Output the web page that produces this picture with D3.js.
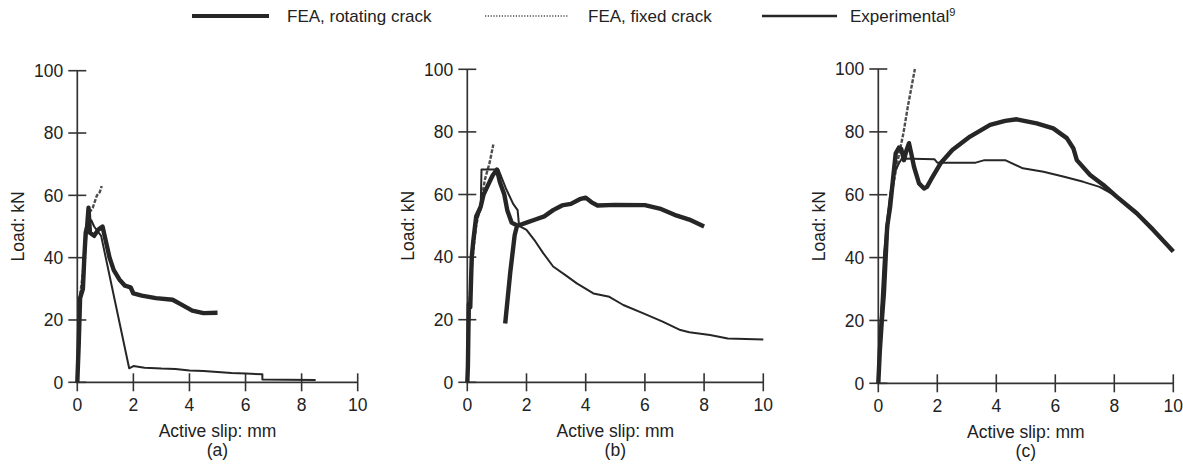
<!DOCTYPE html>
<html>
<head>
<meta charset="utf-8">
<script src="https://cdn.jsdelivr.net/npm/d3@7"></script>
<style>
  body { margin: 0; background: #fff; }
  svg text { font-family: "Liberation Sans", Arial, Helvetica, sans-serif; fill: #222; }
</style>
</head>
<body>
<script>
// Valeurs : [glissement (mm), charge (kN)]
var slipTicks = [0, 2, 4, 6, 8, 10];
var loadTicks = [0, 20, 40, 60, 80, 100];
var panelLabels = ["(a)", "(b)", "(c)"];
var legendLabels = ["FEA, rotating crack", "FEA, fixed crack", "Experimental"];

var rotatingA = [[0,0],[0.05,12],[0.1,27],[0.2,30],[0.25,40],[0.3,48],[0.35,50],[0.4,56],[0.45,48],[0.6,47],
  [0.75,49],[0.9,50],[1.0,46],[1.15,40],[1.3,36],[1.5,33],[1.7,31],[1.9,30.5],[2.0,28.5],[2.3,27.8],
  [2.8,27],[3.4,26.5],[3.7,25],[4.1,23],[4.5,22.2],[5.0,22.3]];
var fixedA = [[0,0],[0.05,15],[0.1,28],[0.2,35],[0.3,48],[0.4,54],[0.55,56],[0.7,60],[0.8,61],[0.87,63]];
var experimentalA = [[0,0],[0.03,8],[0.1,25],[0.2,32],[0.27,40],[0.33,48],[0.4,50],[0.5,52],[0.6,50],
  [0.85,47],[1.85,4.5],[2.0,5.2],[2.4,4.7],[3.0,4.4],[3.5,4.3],[4.0,3.8],[4.5,3.6],[5.0,3.3],[5.5,3.0],
  [6.0,2.8],[6.6,2.6],[6.6,0.9],[7.5,0.8],[8.5,0.7]];

var rotatingB = [[0,0],[0.02,5],[0.05,25],[0.1,24],[0.15,40],[0.2,45],[0.3,53],[0.45,56],[0.55,60],[0.7,63],
  [0.85,66],[1.0,68],[1.1,64],[1.25,60],[1.35,55],[1.5,51],[1.7,50],[2.0,51],[2.3,52],[2.6,53],[2.9,55],
  [3.2,56.5],[3.5,57],[3.8,58.5],[4.0,59],[4.2,57.5],[4.4,56.5],[5.0,56.7],[6.0,56.6],[6.5,55.5],[7.0,53.5],
  [7.5,52],[8.0,49.8],
  null, [1.28,18.8],[1.45,35],[1.6,47],[1.68,50]];
var fixedB = [[0,0],[0.05,20],[0.1,30],[0.2,42],[0.3,50],[0.45,57],[0.6,65],[0.75,70],[0.88,76]];
var experimentalB = [[0,0],[0.03,10],[0.08,25],[0.15,40],[0.25,50],[0.4,54],[0.45,55],[0.48,68],[1.05,68],
  [1.3,62],[1.55,57],[1.7,55],[1.75,50],[2.0,48.7],[2.3,45],[2.57,41.2],[2.9,37],[3.35,34],[3.7,31.6],
  [4.26,28.4],[4.8,27.3],[5.27,24.7],[5.95,22],[6.6,19.4],[7.2,16.7],[7.5,16],[8.2,15.1],[8.8,14],[10,13.7]];

var rotatingC = [[0,0],[0.05,10],[0.12,20],[0.19,28.6],[0.25,40],[0.3,49.8],[0.4,56],[0.47,62.4],[0.59,73.2],
  [0.7,75],[0.78,74.5],[0.87,71],[0.95,74],[1.04,76.4],[1.12,73],[1.21,68.9],[1.38,63.6],[1.55,62],
  [1.65,62.5],[1.78,64.7],[2.11,70],[2.51,74.2],[3.11,78.5],[3.79,82.2],[4.3,83.5],[4.69,84],[5.37,82.7],
  [5.93,81.1],[6.39,78],[6.61,74.8],[6.73,71],[7.18,66.3],[7.63,63.1],[8.08,59.4],[8.76,54.1],[9.32,48.8],
  [10,41.9]];
var fixedC = [[0,0],[0.1,20],[0.17,27],[0.25,40],[0.35,52],[0.45,60],[0.6,68],[0.75,75],[0.85,79.5],
  [1.0,88],[1.1,93],[1.24,100]];
var experimentalC = [[0,0],[0.05,15],[0.12,28],[0.2,42],[0.3,52],[0.4,60],[0.5,65],[0.6,68],[0.7,70],
  [0.8,71.5],[1.9,71.3],[2.0,70.2],[3.3,70.2],[3.6,71],[4.3,71],[4.9,68.4],[5.6,67.3],[6.3,65.7],
  [6.95,64.1],[7.5,62.5],[8.1,59.4],[8.8,54],[9.2,49.5],[9.5,47],[10,42]];

(function(d3) {
  "use strict";

  /***** Configuration *****/
  var width = 1183, height = 471;

  // Position de chaque graphique (pixels)
  var panels = [
    { x0: 77.3,  x1: 357.7,  y0: 382.3, y1: 70.7, series: [fixedA, experimentalA, rotatingA] },
    { x0: 467.3, x1: 763.3,  y0: 382.3, y1: 69.3, series: [fixedB, experimentalB, rotatingB] },
    { x0: 878.3, x1: 1173.3, y0: 383.3, y1: 69.0, series: [fixedC, experimentalC, rotatingC] }
  ];

  // Styles : fixed, experimental, rotating
  var styles = [
    { stroke: "#4d4d4d", width: 2.4, dash: "4,1.5" },
    { stroke: "#262626", width: 2, dash: null },
    { stroke: "#262626", width: 4.4, dash: null }
  ];

  var svg = d3.select("body")
    .append("svg")
    .attr("width", width)
    .attr("height", height);

  panels.forEach(function(p, i) {
    var x = d3.scaleLinear().domain([0, 10]).range([p.x0, p.x1]);
    var y = d3.scaleLinear().domain([0, 100]).range([p.y0, p.y1]);
    var g = svg.append("g");

    // Axes (traits qui traversent l'axe)
    g.append("line")
      .attr("x1", x(0)).attr("x2", x(0)).attr("y1", y(0) + 1).attr("y2", y(100))
      .attr("stroke", "#333").attr("stroke-width", 1.7);
    g.append("line")
      .attr("x1", x(0) - 1).attr("x2", x(10)).attr("y1", y(0)).attr("y2", y(0))
      .attr("stroke", "#333").attr("stroke-width", 1.7);

    g.selectAll(".ytick").data(loadTicks).enter().append("line")
      .attr("x1", x(0) - 9).attr("x2", x(0) + 9)
      .attr("y1", function(d) { return y(d); }).attr("y2", function(d) { return y(d); })
      .attr("stroke", "#333").attr("stroke-width", 1.6);
    g.selectAll(".xtick").data(slipTicks).enter().append("line")
      .attr("x1", function(d) { return x(d); }).attr("x2", function(d) { return x(d); })
      .attr("y1", y(0) - 9).attr("y2", y(0) + 9)
      .attr("stroke", "#333").attr("stroke-width", 1.6);

    g.selectAll(".ylabel").data(loadTicks).enter().append("text")
      .attr("x", x(0) - 14).attr("y", function(d) { return y(d); })
      .attr("dy", "0.36em").attr("text-anchor", "end")
      .style("font-size", "17.5px")
      .text(function(d) { return d; });
    g.selectAll(".xlabel").data(slipTicks).enter().append("text")
      .attr("x", function(d) { return x(d); }).attr("y", y(0) + 29)
      .attr("text-anchor", "middle")
      .style("font-size", "17.5px")
      .text(function(d) { return d; });

    g.append("text")
      .attr("x", (x(0) + x(10)) / 2).attr("y", y(0) + 55)
      .attr("text-anchor", "middle").style("font-size", "17.5px")
      .text("Active slip: mm");
    g.append("text")
      .attr("x", (x(0) + x(10)) / 2).attr("y", y(0) + 74)
      .attr("text-anchor", "middle").style("font-size", "17.5px")
      .text(panelLabels[i]);
    g.append("text")
      .attr("transform", "translate(" + (x(0) - 59) + "," + y(50) + ") rotate(-90)")
      .attr("dy", "0.35em")
      .attr("text-anchor", "middle").style("font-size", "17.5px")
      .text("Load: kN");

    // Courbes
    var line = d3.line()
      .defined(function(d) { return d !== null; })
      .x(function(d) { return x(d[0]); })
      .y(function(d) { return y(d[1]); });

    p.series.forEach(function(s, k) {
      g.append("path")
        .datum(s)
        .attr("d", line)
        .attr("fill", "none")
        .attr("stroke", styles[k].stroke)
        .attr("stroke-width", styles[k].width)
        .attr("stroke-dasharray", styles[k].dash)
        .attr("stroke-linejoin", "round");
    });
  });

  /***** Légende *****/
  var legend = [
    { x1: 192, x2: 269, tx: 287, style: { stroke: "#262626", width: 4, dash: null } },
    { x1: 485, x2: 568, tx: 588, style: { stroke: "#777", width: 2, dash: "1.2,1.6" } },
    { x1: 762, x2: 837, tx: 850, style: { stroke: "#262626", width: 2.4, dash: null } }
  ];
  var lg = svg.append("g");
  legend.forEach(function(l, i) {
    lg.append("line")
      .attr("x1", l.x1).attr("x2", l.x2).attr("y1", 16).attr("y2", 16)
      .attr("stroke", l.style.stroke)
      .attr("stroke-width", l.style.width)
      .attr("stroke-dasharray", l.style.dash);
    var t = lg.append("text")
      .attr("x", l.tx).attr("y", 22)
      .style("font-size", "17px")
      .text(legendLabels[i]);
    if (i === 2) {
      t.append("tspan").attr("dy", -6).style("font-size", "11px").text("9");
    }
  });
})(d3);
</script>
</body>
</html>
